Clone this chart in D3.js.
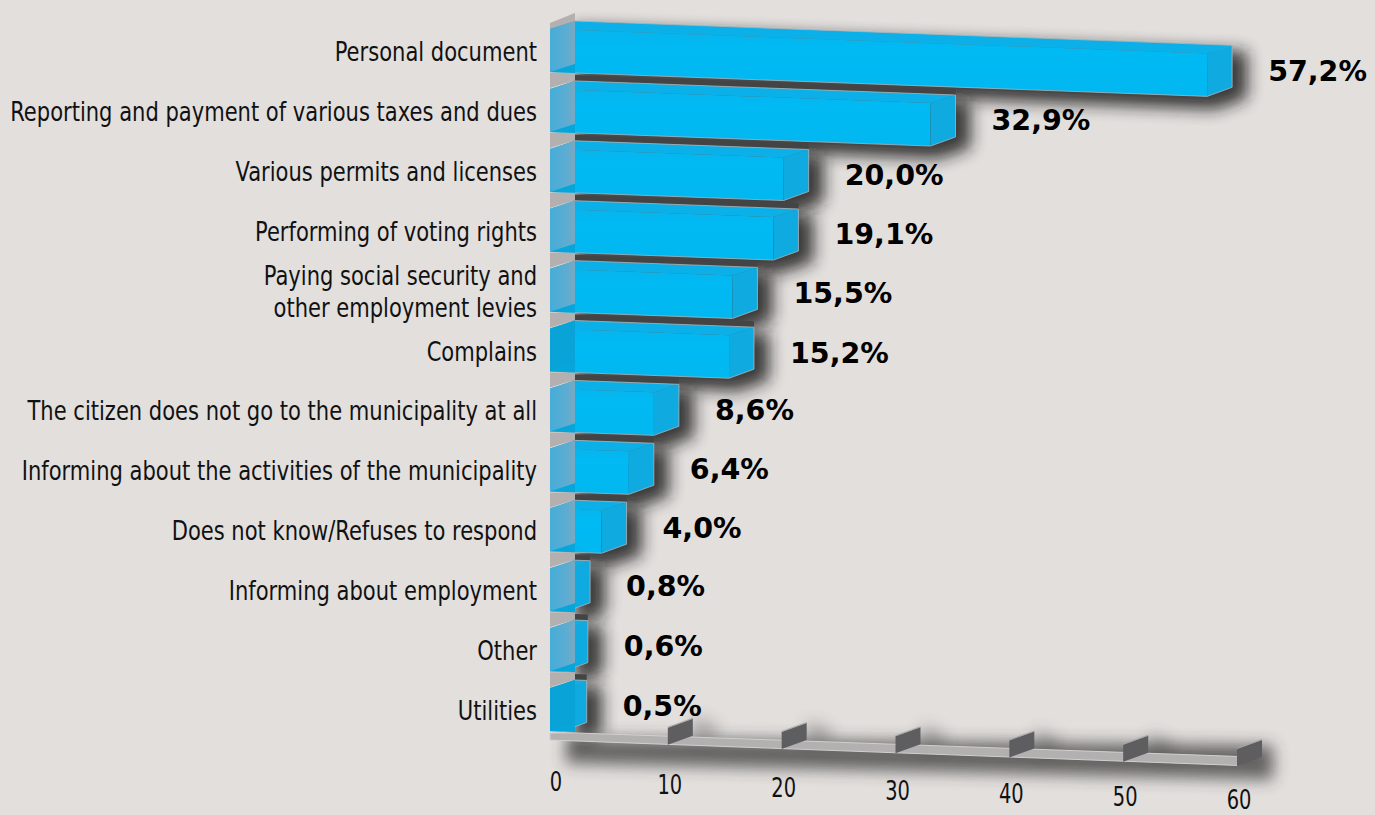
<!DOCTYPE html>
<html>
<head>
<meta charset="utf-8">
<script src="https://cdn.jsdelivr.net/npm/d3@7"></script>
<style>
html,body{margin:0;padding:0;background:#e2dfdd;overflow:hidden}
svg{display:block}
text{font-family:"DejaVu Sans",sans-serif}
</style>
</head>
<body>
<svg id="chart" width="1375" height="815"></svg>
<script>
const categories = [
  ["Personal document"],
  ["Reporting and payment of various taxes and dues"],
  ["Various permits and licenses"],
  ["Performing of voting rights"],
  ["Paying social security and", "other employment levies"],
  ["Complains"],
  ["The citizen does not go to the municipality at all"],
  ["Informing about the activities of the municipality"],
  ["Does not know/Refuses to respond"],
  ["Informing about employment"],
  ["Other"],
  ["Utilities"]
];
const values = [57.2, 32.9, 20.0, 19.1, 15.5, 15.2, 8.6, 6.4, 4.0, 0.8, 0.6, 0.5];
const valueLabels = ["57,2%", "32,9%", "20,0%", "19,1%", "15,5%", "15,2%", "8,6%", "6,4%", "4,0%", "0,8%", "0,6%", "0,5%"];
const darkSided = ["Complains", "Utilities"];
const tickValues = [0, 10, 20, 30, 40, 50, 60];

// Oblique projection: every bar and the floor fall gently towards the right,
// and the far edge of a solid sits up and to the right of its near edge.
const slope = 0.037;
const depthX = 25, depthY = 9;
const barHeight = 43;

const x = d3.scaleLinear().domain([0, 60]).range([556, 1239]);
const rows = d3.scalePoint().domain(d3.range(categories.length)).range([21, 680]);
const tickLabelY = d3.scaleLinear().domain([0, 60]).range([791, 808.5]);

const wallNear = x(0) - 6, wallFar = wallNear + depthX;

const svg = d3.select("#chart");
const poly = d3.line().curve(d3.curveLinearClosed);
const defs = svg.append("defs");

function blurFilter(id, sd) {
  defs.append("filter").attr("id", id).attr("filterUnits", "userSpaceOnUse")
    .attr("x", 0).attr("y", 0).attr("width", 1375).attr("height", 815)
    .append("feGaussianBlur").attr("stdDeviation", sd);
}
blurFilter("barShadow", 8);
blurFilter("floorShadow", 8);

const leftGrad = defs.append("linearGradient").attr("id", "leftFace");
leftGrad.append("stop").attr("offset", "0").attr("stop-color", "#45add8");
leftGrad.append("stop").attr("offset", "0.7").attr("stop-color", "#5facd2");
leftGrad.append("stop").attr("offset", "1").attr("stop-color", "#7ba9c0");

const frontGrad = defs.append("linearGradient").attr("id", "frontFace")
  .attr("x1", 0).attr("x2", 0).attr("y1", 0).attr("y2", 1);
frontGrad.append("stop").attr("offset", "0").attr("stop-color", "#08b4ec");
frontGrad.append("stop").attr("offset", "0.3").attr("stop-color", "#00baf4");
frontGrad.append("stop").attr("offset", "1").attr("stop-color", "#02b7f0");

const floorY = px => 740 + slope * (px - wallNear);
const plateX = v => x(v) - 2;
const floorEnd = plateX(60);

const rowData = categories.map((lines, i) => {
  const top = rows(i);
  const end = x(values[i]);
  const back = end + depthX;
  return {lines, i, top, end, back, value: values[i], label: valueLabels[i],
    yBack: px => top + slope * (px - wallFar)};
});
const frontTop = (d, px) => d.yBack(px) + depthY;
const frontBottom = (d, px) => frontTop(d, px) + barHeight;

// Soft shadows sit beneath every solid
const shadows = svg.append("g");
shadows.append("path")
  .attr("d", poly([
    [wallNear + 16, floorY(wallNear) - 2], [floorEnd + 36, floorY(floorEnd) - 20],
    [floorEnd + 36, floorY(floorEnd) + 14], [wallNear + 16, floorY(wallNear) + 23]
  ]))
  .attr("fill", "#333").attr("opacity", 0.72).attr("filter", "url(#floorShadow)");

tickValues.slice(1, -1).forEach(v => {
  const px = plateX(v), b = floorY(px);
  shadows.append("path")
    .attr("d", poly([[px + depthX, b - 28], [px + depthX + 24, b - 20], [px + depthX + 24, b - 4], [px + depthX, b - 4]]))
    .attr("fill", "#333").attr("opacity", 0.3).attr("filter", "url(#floorShadow)");
});

rowData.forEach(d => {
  shadows.append("path")
    .attr("d", poly([
      [wallFar, d.top + 6], [d.back + 15, d.yBack(d.back) + 6],
      [d.back + 15, d.yBack(d.back) + barHeight + 10],
      [d.end + 8, frontBottom(d, d.end) + 13], [wallFar, frontBottom(d, wallFar) + 10]
    ]))
    .attr("fill", "#1c1c1c").attr("opacity", 0.85).attr("filter", "url(#barShadow)");
});

// Back wall: the cap above the first bar and the grey pieces between bars
const wall = svg.append("g").attr("fill", "#b3b0af");
wall.append("path")
  .attr("d", poly([
    [wallNear, rows(0) + 9], [wallNear, rows(0) + 2],
    [wallFar, rows(0) - 8], [wallFar, rows(0)]
  ]));
rowData.slice(0, -1).forEach(d => {
  const b = frontBottom(d, wallNear);
  wall.append("path").attr("d", poly([
    [wallNear, b + 1], [wallFar, b + 1], [wallFar, b + 8], [wallNear, b + 16]
  ]));
});

// Floor of the value axis and the plates standing on it
svg.append("path")
  .attr("d", poly([
    [wallNear, floorY(wallNear) - 7], [wallFar, floorY(wallFar) - 8],
    [floorEnd + 5, floorY(floorEnd + 5) - 9], [floorEnd, floorY(floorEnd)], [wallNear, floorY(wallNear)]
  ]))
  .attr("fill", "#b2b0b0").attr("stroke", "#d2d0cf").attr("stroke-width", 1);

const plates = svg.append("g");
tickValues.slice(1).forEach(v => {
  const px = plateX(v), b = floorY(px) + 0.5;
  plates.append("path")
    .attr("d", poly([[px, b - 17], [px + depthX, b - 17 - depthY], [px + depthX, b - depthY], [px, b]]))
    .attr("fill", "#5e5e60");
  plates.append("path")
    .attr("d", poly([[px, b - 17], [px + depthX, b - 17 - depthY], [px + depthX, b - 18 - depthY], [px, b - 18]]))
    .attr("fill", "#a5a4a3");
});

// Dark gap visible just above each bar after the first
const gaps = svg.append("g").attr("fill", "#454444");
rowData.slice(1).forEach(d => {
  gaps.append("path").attr("d", poly([
    [wallFar, d.top - 6], [d.back, d.yBack(d.back) - 6],
    [d.back, d.yBack(d.back)], [wallFar, d.top]
  ]));
});

// Bars
const marks = svg.append("g");
rowData.forEach(d => {
  const g = marks.append("g");

  g.append("path")
    .attr("d", poly([[wallNear, frontTop(d, wallNear)], [d.end, frontTop(d, d.end)], [d.end, frontBottom(d, d.end)], [wallNear, frontBottom(d, wallNear)]]))
    .attr("fill", "url(#frontFace)");

  g.append("path")
    .attr("d", poly([[wallFar, d.yBack(wallFar)], [d.back, d.yBack(d.back)], [d.end, frontTop(d, d.end)], [wallNear, frontTop(d, wallNear)]]))
    .attr("fill", "#0bb0e8");

  g.append("path")
    .attr("d", poly([[d.end, frontTop(d, d.end)], [d.back, d.yBack(d.back)], [d.back, d.yBack(d.back) + barHeight - 1], [d.end, frontBottom(d, d.end)]]))
    .attr("fill", "#0fabe0");

  g.append("path")
    .attr("d", d3.line()([[wallFar, d.yBack(wallFar)], [d.back, d.yBack(d.back)], [d.back, d.yBack(d.back) + barHeight - 1], [d.end, frontBottom(d, d.end)], [wallNear, frontBottom(d, wallNear)]]))
    .attr("fill", "none").attr("stroke", "#a9b6bc").attr("stroke-width", 0.8);

  // side face lying on the axis wall
  const dark = darkSided.includes(d.lines[0]);
  g.append("path")
    .attr("d", poly([[wallNear, frontTop(d, wallNear)], [wallFar, d.yBack(wallFar)], [wallFar, d.yBack(wallFar) + barHeight], [wallNear, frontBottom(d, wallNear)]]))
    .attr("fill", dark ? "#0aa3d8" : "url(#leftFace)");
  g.append("path")
    .attr("d", poly([[wallNear, frontBottom(d, wallNear)], [wallFar, d.yBack(wallFar) + barHeight], [wallFar, frontBottom(d, wallFar)]]))
    .attr("fill", "#07a6da");
});

// Category names, set narrow like a condensed humanist face
const narrow = 0.81;
const names = svg.append("g").attr("fill", "#111");
rowData.forEach(d => {
  const centre = d.top + 31;
  d.lines.forEach((line, k) => {
    const y = centre + 9 + (k - (d.lines.length - 1) / 2) * 32;
    names.append("text")
      .attr("transform", `translate(537,${y}) scale(${narrow},1)`)
      .attr("text-anchor", "end").attr("font-size", 26)
      .text(line);
  });
});

// Value labels
svg.append("g").selectAll("text").data(rowData).join("text")
  .attr("x", d => d.end + 61)
  .attr("y", d => d.top + 25 + slope * (d.end - wallNear) + 10.5)
  .attr("font-size", 28.5).attr("font-weight", 700).attr("fill", "#000")
  .text(d => d.label);

// Value axis tick labels
svg.append("g").selectAll("text").data(tickValues).join("text")
  .attr("transform", v => `translate(${x(v)},${tickLabelY(v)}) scale(0.72,1)`)
  .attr("text-anchor", "middle").attr("font-size", 27).attr("fill", "#111")
  .text(v => v);
</script>
</body>
</html>
